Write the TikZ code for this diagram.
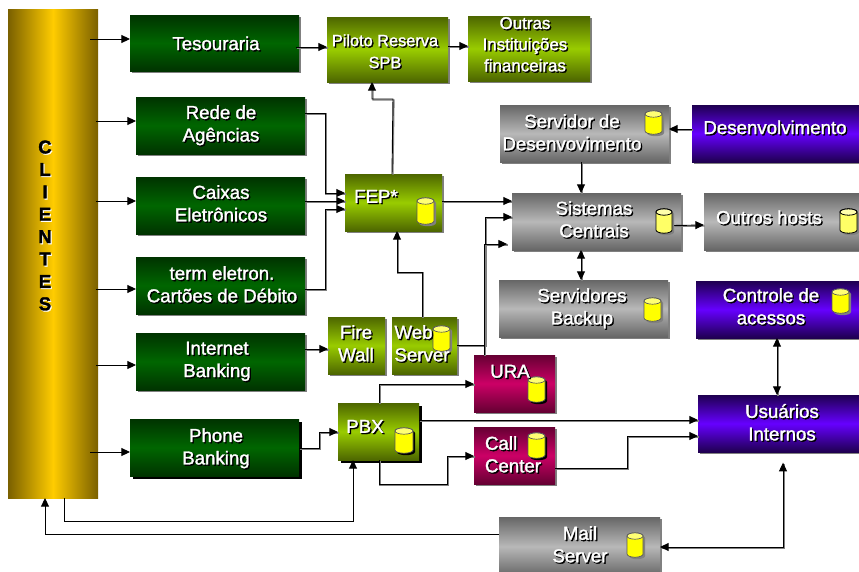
\documentclass[tikz,border=0pt]{standalone}
\usepackage{fontspec}
\setmainfont{Liberation Sans}[RawFeature={embolden=1.6}]
\usetikzlibrary{arrows.meta,shadows}
\definecolor{gEdge}{HTML}{003300}\definecolor{gMid}{HTML}{006600}
\definecolor{lEdge}{HTML}{4D6600}\definecolor{lMid}{HTML}{99CC00}
\definecolor{kEdge}{HTML}{666666}\definecolor{kMid}{HTML}{B8B8B8}
\definecolor{pEdge}{HTML}{1F0050}\definecolor{pMid}{HTML}{6600FF}
\definecolor{mEdge}{HTML}{660033}\definecolor{mMid}{HTML}{CC0066}
\definecolor{oEdge}{HTML}{7A6000}\definecolor{oMid}{HTML}{FFCC00}
\definecolor{shGray}{HTML}{808080}
\definecolor{cylY}{HTML}{FFFF00}\definecolor{cylP}{HTML}{FFFF66}
\newcommand\shd[1]{\leavevmode\rlap{\kern1pt\raisebox{-1pt}{\color{black}#1}}{\color{white}\kern.0pt#1}}
\newcommand\shk[1]{\leavevmode\rlap{\kern.8pt\raisebox{-.8pt}{\color{white}#1}}{\color{black}#1}}
\newcommand\bx[6]{\node[box,#2,minimum width={(#5-#3)*0.75pt},minimum height={(#6-#4)*0.75pt}] (#1) at ({(#3+#5)/2},{(#4+#6)/2}) {};}
\newcommand\cyl[7]{%
  \pgfmathsetmacro\rxx{(#5-#3)*0.375}%
  \coordinate (#1) at ({(#3+#5)/2},{(#4+#6)/2});
  \fill[#7] ({#3+2},{#4+5}) arc[start angle=180,end angle=0,x radius=\rxx pt,y radius=2.4pt] -- ({#5+2},{#6-1}) arc[start angle=360,end angle=180,x radius=\rxx pt,y radius=2.4pt] -- cycle;
  \path[#2] ({#3},{#4+3}) -- ({#3},{#6-3}) arc[start angle=180,end angle=360,x radius=\rxx pt,y radius=2.4pt] -- ({#5},{#4+3}) arc[start angle=0,end angle=180,x radius=\rxx pt,y radius=2.4pt] -- cycle;
  \path[#2,fill=white,fill opacity=.45] ({(#3+#5)/2},{#4+3}) ellipse[x radius=\rxx pt,y radius=2.4pt];}
\tikzset{
  box/.style={rectangle,inner sep=0pt,outer sep=0pt,anchor=center},
  gsh/.style={drop shadow={shadow xshift=1.6pt,shadow yshift=-1.6pt,opacity=1,fill=shGray}},
  ksh/.style={drop shadow={shadow xshift=2.2pt,shadow yshift=-2.2pt,opacity=1,fill=black}},
  green/.style={top color=gEdge,bottom color=gEdge,middle color=gMid},
  lime/.style={top color=lEdge,bottom color=lEdge,middle color=lMid},
  steel/.style={top color=kEdge,bottom color=kEdge,middle color=kMid},
  violet/.style={top color=pEdge,bottom color=pEdge,middle color=pMid},
  wine/.style={top color=mEdge,bottom color=mEdge,middle color=mMid},
  gold/.style={left color=oEdge,right color=oEdge,middle color=oMid},
  txt/.style={inner sep=0pt,align=center,font=\fontsize{14}{16.9}\selectfont},
  txs/.style={inner sep=0pt,align=center,font=\fontsize{12.7}{15.9}\selectfont},
  thin line/.style={draw=black,line width=.7pt,-{Triangle[length=6.5pt,width=6pt]}},
  conn/.style={draw=black,line width=.7pt,-{Triangle[length=6.5pt,width=6pt]},
     preaction={draw=shGray,line width=1pt,-,transform canvas={xshift=.7pt,yshift=-.7pt}}},
  both/.style={conn,{Triangle[length=6.5pt,width=6pt]}-{Triangle[length=6.5pt,width=6pt]}},
  cyA/.style={draw=black!65,line width=.5pt,fill=cylY},
  cyB/.style={draw=black,line width=.6pt,fill=cylP},
}
\begin{document}
\begin{tikzpicture}[x=0.75pt,y=-0.75pt]
\useasboundingbox (0,0) rectangle (859,571);
\fill[white] (0,0) rectangle (859,571);
% boxes
\bx{cli}{gold}{8}{9}{98}{498}
\bx{tes}{green,gsh}{130}{15}{299}{71}
\bx{rede}{green,gsh}{136}{97}{305}{154}
\bx{cai}{green,gsh}{136}{177}{305}{234}
\bx{term}{green,gsh}{136}{257}{305}{314}
\bx{inet}{green,gsh}{136}{333}{305}{390}
\bx{fone}{green,ksh}{130}{419}{299}{476}
\bx{pil}{lime,gsh}{327}{17}{448}{82}
\bx{outi}{lime,gsh}{468}{16}{590}{81}
\bx{fep}{lime,gsh}{345}{174}{442}{231}
\bx{fire}{lime,gsh}{328}{317}{385}{374}
\bx{web}{lime,gsh}{392}{317}{457}{374}
\bx{pbx}{lime,ksh}{338}{403}{419}{460}
\bx{ura}{wine,gsh}{474}{355}{555}{412}
\bx{call}{wine,gsh}{474}{427}{555}{484}
\bx{sdev}{steel,gsh}{500}{105}{669}{162}
\bx{dev}{violet,gsh}{692}{105}{866}{162}
\bx{sis}{steel,gsh}{512}{193}{681}{250}
\bx{host}{steel,gsh}{704}{193}{866}{250}
\bx{bak}{steel,gsh}{499}{280}{668}{337}
\bx{ctl}{violet,gsh}{696}{281}{866}{338}
\bx{usu}{violet,gsh}{698}{395}{866}{452}
\bx{mail}{steel,gsh}{499}{517}{660}{576}
% connectors
\draw[thin line] (cli.east |- 90,39) ++(-8,0) -- (tes.west |- 0,39);
\draw[thin line] (cli.east |- 0,121) ++(-2,0) -- (rede.west |- 0,121);
\draw[thin line] (cli.east |- 0,201) ++(-2,0) -- (cai.west |- 0,201);
\draw[thin line] (cli.east |- 0,289) ++(-2,0) -- (term.west |- 0,289);
\draw[thin line] (cli.east |- 0,365) ++(-2,0) -- (inet.west |- 0,365);
\draw[thin line] (cli.east |- 0,452) ++(-8,0) -- (fone.west |- 0,452);
\draw[conn] (tes.east |- 0,47) ++(-3,0) -- (pil.west |- 0,47);
\draw[conn] (pil.east |- 0,46) -- (outi.west |- 0,46);
\draw[conn] (fep.north -| 392,0) -- (393,99) -- (372,99) -- (pil.south -| 372,0);
\draw[conn] (rede.east |- 0,113) -- (325,113) -- (325,193) -- (fep.west |- 0,193);
\draw[conn] (cai.east |- 0,201) -- (fep.west |- 0,201);
\draw[conn] (term.east |- 0,289) -- (325,289) -- (325,209) -- (fep.west |- 0,209);
\draw[conn] (fep.east |- 0,201) -- (sis.west |- 0,201);
\draw[conn] (web.north -| 422,0) -- (422,272) -- (397,272) -- (fep.south -| 397,0);
\draw[conn] (web.east |- 0,345) -- (485,345) -- (485,217) -- (sis.west |- 0,217);
\draw[conn,shorten >=3.7pt] (ura.north -| 484,0) -- (484,244) -- (sis.west |- 0,244);
\draw[conn] (sdev.south -| 581,0) -- (sis.north -| 581,0);
\draw[conn] (dev.west |- 0,129) -- (sdev.east |- 0,129);
\draw[conn] (sis) ++(77,4) -- (host.west |- 0,225);
\draw[both] (sis.south -| 581,0) -- (bak.north -| 581,0);
\draw[both] (ctl.south -| 777,0) -- (usu.north -| 777,0);
\draw[conn] (pbx.north -| 379,0) -- (379,384) -- (ura.west |- 0,384);
\draw[conn] (pbx.east |- 0,420) -- (usu.west |- 0,420);
\draw[conn] (pbx.south -| 379,0) -- (379,484) -- (447,484) -- (447,456) -- (call.west |- 0,456);
\draw[conn] (call.east |- 0,468) -- (627,468) -- (627,436) -- (usu.west |- 0,436);
\draw[conn] (fone.east |- 0,448) -- (319,448) -- (319,432) -- (pbx.west |- 0,432);
\draw[conn] (inet.east |- 0,349) -- (fire.west |- 0,349);
\draw[thin line] (cli.south -| 64,0) -- (64,521) -- (353,521) -- (pbx.south -| 353,0);
\draw[thin line] (mail.west |- 0,534) -- (45,534) -- (cli.south -| 45,0);
\draw[both,shorten >=8pt] (mail.east |- 0,547) -- (783,547) -- (usu.south -| 783,0);
% cylinders
\cyl{cfep}{cyA}{417}{198}{434}{224}{shGray}
\cyl{csis}{cyB}{656}{209}{672}{233}{shGray}
\cyl{csdev}{cyA}{645}{111}{662}{134}{shGray}
\cyl{chost}{cyB}{840}{209}{857}{233}{shGray}
\cyl{cbak}{cyA}{644}{298}{661}{321}{shGray}
\cyl{cctl}{cyA}{832}{289}{849}{313}{shGray}
\cyl{cweb}{cyA}{433}{326}{450}{351}{shGray}
\cyl{cura}{cyA}{528}{377}{545}{402}{black}
\cyl{ccall}{cyA}{528}{433}{545}{458}{black}
\cyl{cpbx}{cyA}{395}{428}{413}{453}{black}
\cyl{cmail}{cyA}{627}{533}{643}{557}{shGray}
% texts
\node[txt,font=\fontsize{14}{16.8}\bfseries] (tcli) at (45,226) {\shk{C}\\\shk{L}\\\shk{I}\\\shk{E}\\\shk{N}\\\shk{T}\\\shk{E}\\\shk{S}};
\node[txt] (ttes) at (216,44) {\shd{Tesouraria}};
\node[txt] (trede) at (221,126) {\shd{Rede de}\\\shd{Agências}};
\node[txt] (tcai) at (221,204) {\shd{Caixas}\\\shd{Eletrônicos}};
\node[txt] (tterm) at (222,285) {\shd{term eletron.}\\\shd{Cartões de Débito}};
\node[txt] (tinet) at (217,362) {\shd{Internet}\\\shd{Banking}};
\node[txt] (tfone) at (216,449) {\shd{Phone}\\\shd{Banking}};
\node[txs,font=\fontsize{12.25}{16.5}\selectfont] (tpil) at (385,52) {\shd{Piloto Reserva}\\\shd{SPB}};
\node[txs] (tout) at (525,45) {\shd{Outras}\\\shd{Instituições}\\\shd{financeiras}};
\node[txt] (tfep) at (376,197) {\shd{FEP*}};
\node[txt] (tfire) at (356,344) {\shd{Fire}\\\shd{Wall}};
\node[txt,align=left] (tweb) at (422,344) {\shd{Web}\\\shd{Server}};
\node[txt] (tpbx) at (365,427) {\shd{PBX}};
\node[txt] (tura) at (510,372) {\shd{URA}};
\node[txt,align=left] (tcall) at (513,455) {\shd{Call}\\\shd{Center}};
\node[txt] (tsdev) at (572,133) {\shd{Servidor de}\\\shd{Desenvovimento}};
\node[txt] (tdev) at (775,128) {\shd{Desenvolvimento}};
\node[txt] (tsis) at (594,220) {\shd{Sistemas}\\\shd{Centrais}};
\node[txt] (thost) at (769,218) {\shd{Outros hosts}};
\node[txt] (tbak) at (582,309) {\shd{Servidores}\\\shd{Backup}};
\node[txt] (tctl) at (771,307) {\shd{Controle de}\\\shd{acessos}};
\node[txt] (tusu) at (782,423) {\shd{Usuários}\\\shd{Internos}};
\node[txt] (tmail) at (580,545) {\shd{Mail}\\\shd{Server}};
\end{tikzpicture}
\end{document}
